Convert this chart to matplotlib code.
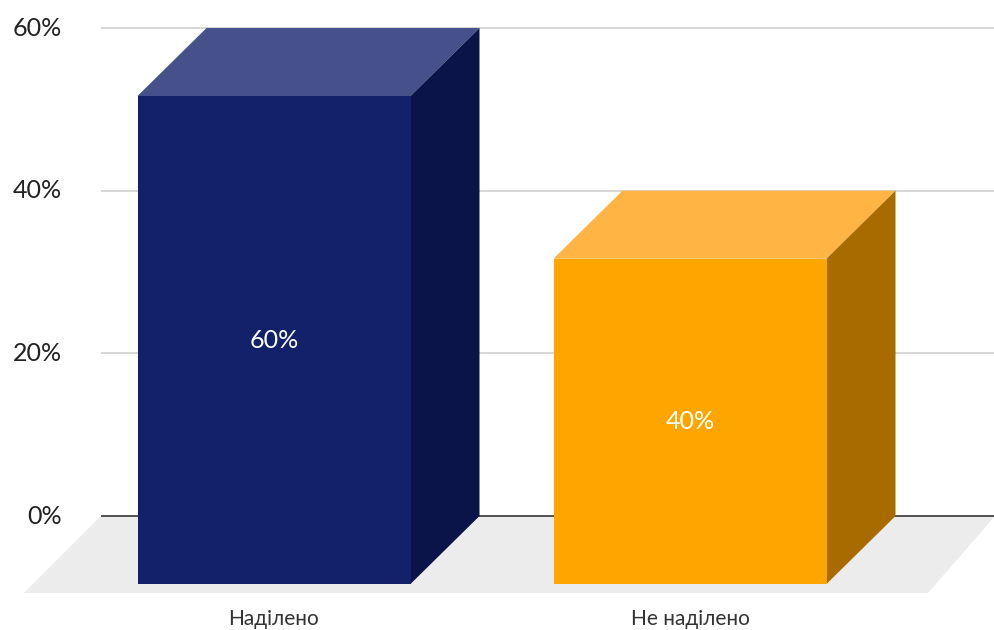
import matplotlib
matplotlib.use("Agg")
import matplotlib.pyplot as plt
from matplotlib.patches import Polygon, Rectangle

categories = ["Наділено", "Не наділено"]
values = [60, 40]
value_labels = ["60%", "40%"]
ticks = [0, 20, 40, 60]
tick_labels = ["0%", "20%", "40%", "60%"]

FRONT = ["#13216b", "#fea500"]
TOP = ["#46508a", "#ffb444"]
SIDE = ["#0a1449", "#a86b00"]

plt.rcParams["font.family"] = ["Lato", "DejaVu Sans"]

W, H = 995, 630
PX_CAT = 416.0      # pixels per category step
PX_PCT = 8.133      # pixels per percent
X0_PX, Y0_PX = 274.0, 516.0   # first category centre / back baseline

fig = plt.figure(figsize=(W / 100, H / 100), dpi=100)
ax = fig.add_axes([0, 0, 1, 1])
ax.set_xlim(-X0_PX / PX_CAT, (W - X0_PX) / PX_CAT)
ax.set_ylim((Y0_PX - H) / PX_PCT, Y0_PX / PX_PCT)
ax.axis("off")

bw = 273 / PX_CAT          # bar width
dx = 69 / PX_CAT           # depth offset, horizontal
dy = 68 / PX_PCT           # depth offset, vertical
wall_left = (101 - X0_PX) / PX_CAT
right = ax.get_xlim()[1]

# floor
fdy = 77 / PX_PCT
floor = Polygon([(wall_left, 0), (right, 0),
                 (right - 67 / PX_CAT, -fdy), (wall_left - 77 / PX_CAT, -fdy)],
                closed=True, fc="#ececec", ec="none", zorder=1)
ax.add_patch(floor)

# back wall grid + tick labels
for t, lab in zip(ticks, tick_labels):
    ax.plot([wall_left, right], [t, t], color="#444444" if t == 0 else "#d4d4d4",
            lw=1.3, zorder=2, solid_capstyle="butt")
    ax.text((62 - X0_PX) / PX_CAT, t, lab, ha="right", va="center",
            fontsize=18, color="#222222")

for i, v in enumerate(values):
    x0 = i - bw / 2
    ax.add_patch(Rectangle((x0, -dy), bw, v, fc=FRONT[i], ec="none", zorder=5))
    ax.add_patch(Polygon([(x0, v - dy), (x0 + bw, v - dy), (x0 + bw + dx, v), (x0 + dx, v)],
                         closed=True, fc=TOP[i], ec="none", zorder=4))
    ax.add_patch(Polygon([(x0 + bw, -dy), (x0 + bw + dx, 0), (x0 + bw + dx, v), (x0 + bw, v - dy)],
                         closed=True, fc=SIDE[i], ec="none", zorder=4))
    ax.text(i, v / 2 - dy, value_labels[i], ha="center", va="center",
            fontsize=18, color="white", zorder=6)
    ax.text(i, (Y0_PX - 619) / PX_PCT, categories[i], ha="center", va="center",
            fontsize=15, color="#333333")

fig.savefig("out.png", dpi=100)
